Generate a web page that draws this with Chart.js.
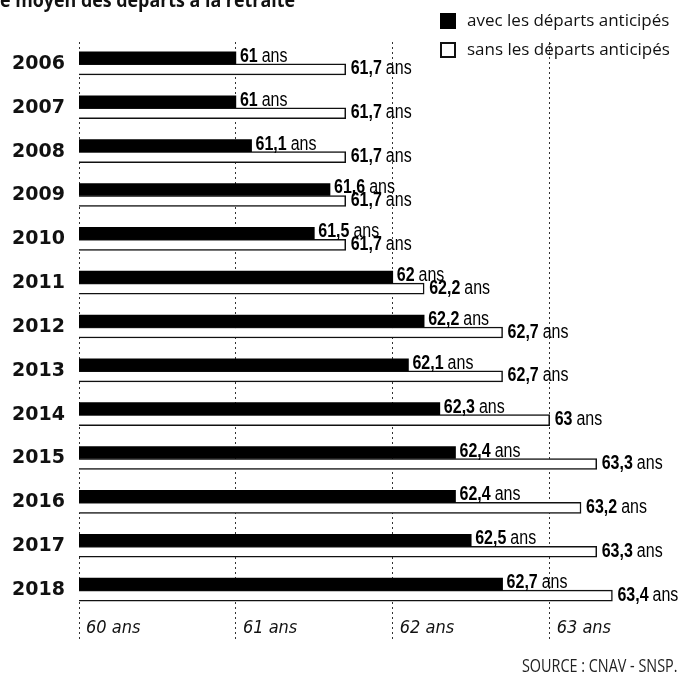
<!DOCTYPE html>
<html lang="fr">
<head>
<meta charset="utf-8">
<script src="https://cdn.jsdelivr.net/npm/chart.js@4.4.1/dist/chart.umd.min.js"></script>
<style>
  body { margin: 0; background: #fff; }
  #cadre { position: relative; width: 683px; height: 678px; overflow: hidden; }
  #titre { position: absolute; left: 0; top: -13px; font: bold 19px "Open Sans", sans-serif; color: #111; white-space: nowrap; transform: scaleX(0.94); transform-origin: left top; }
  .leg { position: absolute; left: 440px; font: 17px "Open Sans", sans-serif; color: #111; white-space: nowrap; }
  .leg i { display: inline-block; width: 16px; height: 16px; margin-right: 11px; vertical-align: -3px; box-sizing: border-box; }
  #source { position: absolute; right: 5px; top: 653px; font: 18px "Open Sans", sans-serif; color: #222; white-space: nowrap; transform: scaleX(0.8); transform-origin: right top; }
</style>
</head>
<body>
<div id="cadre">
  <canvas id="retraiteChart" width="683" height="678"></canvas>
  <div id="titre">e moyen des départs à la retraite</div>
  <div class="leg" style="top:8px"><i style="background:#000"></i>avec les départs anticipés</div>
  <div class="leg" style="top:37px"><i style="border:2px solid #111;background:#fff"></i>sans les départs anticipés</div>
  <div id="source">SOURCE : CNAV - SNSP.</div>
</div>
<script>
const annees = ['2006', '2007', '2008', '2009', '2010', '2011', '2012', '2013', '2014', '2015', '2016', '2017', '2018'];
const avecAnticipes = [61, 61, 61.1, 61.6, 61.5, 62, 62.2, 62.1, 62.3, 62.4, 62.4, 62.5, 62.7];
const sansAnticipes = [61.7, 61.7, 61.7, 61.7, 61.7, 62.2, 62.7, 62.7, 63, 63.3, 63.2, 63.3, 63.4];
const nomsSeries = ['avec les départs anticipés', 'sans les départs anticipés'];

// étiquettes "61,7 ans" au bout des barres
const etiquettes = {
  id: 'etiquettes',
  afterDatasetsDraw(chart) {
    const ctx = chart.ctx;
    chart.data.datasets.forEach((ds, i) => {
      chart.getDatasetMeta(i).data.forEach((bar, j) => {
        const txt = String(ds.data[j]).replace('.', ',');
        const x = bar.x + (i === 0 ? 4 : 5);
        const y = bar.y + bar.height / 2 - (i === 0 ? 2 : 0.5);
        ctx.save();
        ctx.translate(x, y);
        ctx.scale(0.8, 1);
        ctx.fillStyle = '#000';
        ctx.textBaseline = 'alphabetic';
        ctx.font = 'bold 20px "Liberation Sans", Arial, sans-serif';
        ctx.fillText(txt, 0, 0);
        const w = ctx.measureText(txt).width;
        ctx.font = '20px "Liberation Sans", Arial, sans-serif';
        ctx.fillText('ans', w + 5, 0);
        ctx.restore();
      });
    });
  }
};

const ctx = document.getElementById('retraiteChart').getContext('2d');
new Chart(ctx, {
  type: 'bar',
  data: {
    labels: annees,
    datasets: [{
      label: nomsSeries[0],
      data: avecAnticipes,
      backgroundColor: '#000',
      borderWidth: 0,
      barThickness: 12,
    }, {
      label: nomsSeries[1],
      data: sansAnticipes,
      backgroundColor: '#fff',
      borderColor: '#111',
      borderWidth: 1.5,
      barThickness: 11,
    }]
  },
  options: {
    indexAxis: 'y',
    responsive: false,
    animation: false,
    devicePixelRatio: 1,
    layout: { padding: { top: 42, left: 0, right: 0, bottom: 0 } },
    plugins: { legend: { display: false }, tooltip: { enabled: false } },
    scales: {
      x: {
        min: 60,
        max: 63.85,
        afterFit: (scale) => { scale.height = 66; },
        border: { display: false, dash: [2, 3] },
        grid: {
          color: '#333',
          lineWidth: 1,
          tickBorderDash: [2, 3],
          tickColor: '#333',
          tickLength: 29,
        },
        ticks: {
          stepSize: 1,
          includeBounds: false,
          align: 'start',
          labelOffset: 7,
          padding: -23,
          color: '#111',
          font: { family: '"DejaVu Sans Condensed", "Liberation Sans"', style: 'italic', size: 18 },
          callback: (v) => v + ' ans',
        },
      },
      y: {
        afterFit: (scale) => { scale.width = 79; },
        border: { display: false },
        grid: { display: false, drawTicks: false },
        ticks: {
          padding: 14,
          color: '#111',
          font: { family: '"DejaVu Sans"', weight: 'bold', size: 19 },
        },
      },
    },
  },
  plugins: [etiquettes],
});
</script>
</body>
</html>
